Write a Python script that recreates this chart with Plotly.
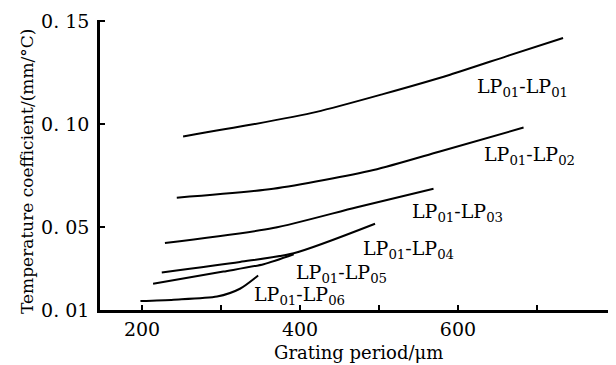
import plotly.graph_objects as go

# Data (grating period in um, temperature coefficient in mm/°C)
lp01_x = [252, 337, 421, 505, 590, 662, 733]
lp01_y = [0.0941, 0.0997, 0.1060, 0.1146, 0.1240, 0.1330, 0.1418]

lp02_x = [244, 366, 493, 577, 683]
lp02_y = [0.0644, 0.0687, 0.0778, 0.0868, 0.0984]

lp03_x = [229, 366, 472, 569]
lp03_y = [0.0425, 0.0497, 0.0598, 0.0687]

lp04_x = [225, 324, 392, 495]
lp04_y = [0.0282, 0.0333, 0.0375, 0.0518]

lp05_x = [214, 303, 354, 392]
lp05_y = [0.0227, 0.0286, 0.0322, 0.0370]

lp06_x = [198, 240, 295, 324, 347]
lp06_y = [0.0143, 0.0150, 0.0165, 0.0203, 0.0267]

series = [
    ("LP<sub>01</sub>-LP<sub>01</sub>", lp01_x, lp01_y, 682, 0.118),
    ("LP<sub>01</sub>-LP<sub>02</sub>", lp02_x, lp02_y, 691, 0.0848),
    ("LP<sub>01</sub>-LP<sub>03</sub>", lp03_x, lp03_y, 599, 0.0571),
    ("LP<sub>01</sub>-LP<sub>04</sub>", lp04_x, lp04_y, 537, 0.0395),
    ("LP<sub>01</sub>-LP<sub>05</sub>", lp05_x, lp05_y, 453, 0.0276),
    ("LP<sub>01</sub>-LP<sub>06</sub>", lp06_x, lp06_y, 399, 0.0171),
]

x_tickvals = [200, 300, 400, 500, 600, 700]
x_ticktext = ["200", "", "400", "", "600", ""]
y_tickvals = [0.01, 0.05, 0.10, 0.15]
y_ticktext = ["0. 01", "0. 05", "0. 10", "0. 15"]

SERIF = "DejaVu Serif, Liberation Serif, serif"

fig = go.Figure()
annotations = []
for name, xs, ys, lx, ly in series:
    fig.add_trace(go.Scatter(x=xs, y=ys, mode="lines", name=name,
                             line=dict(color="black", width=2, shape="spline", smoothing=0.7),
                             showlegend=False, hoverinfo="skip"))
    annotations.append(dict(x=lx, y=ly, xref="x", yref="y", text=name, showarrow=False,
                            font=dict(family=SERIF, size=19, color="black")))

annotations.append(dict(x=(27 - 100) / 508, y=(310 - 172) / 290, xref="paper", yref="paper",
                        xanchor="center", yanchor="middle",
                        text="Temperature coefficient/(mm/°C)", textangle=-90, showarrow=False,
                        font=dict(family=SERIF, size=17, color="black")))
annotations.append(dict(x=(358 - 100) / 508, y=-(352 - 310) / 290, xref="paper", yref="paper",
                        xanchor="center", yanchor="middle",
                        text="Grating period/μm", showarrow=False,
                        font=dict(family=SERIF, size=18, color="black")))

fig.update_layout(
    width=616, height=365,
    margin=dict(l=100, r=8, t=20, b=55),
    paper_bgcolor="white", plot_bgcolor="white",
    annotations=annotations,
    xaxis=dict(range=[146.8, 789.9], tickvals=x_tickvals, ticktext=x_ticktext,
               showline=True, linecolor="black", linewidth=2.5, showgrid=False, zeroline=False,
               ticks="inside", ticklen=5, tickwidth=2, tickcolor="black",
               tickfont=dict(family=SERIF, size=19, color="black")),
    yaxis=dict(range=[0.01, 0.1505], tickvals=y_tickvals, ticktext=y_ticktext,
               showline=True, linecolor="black", linewidth=2.5, showgrid=False, zeroline=False,
               ticks="inside", ticklen=5, tickwidth=2, tickcolor="black",
               ticklabelstandoff=4,
               tickfont=dict(family=SERIF, size=19, color="black")),
)

fig.write_html("out.html")
